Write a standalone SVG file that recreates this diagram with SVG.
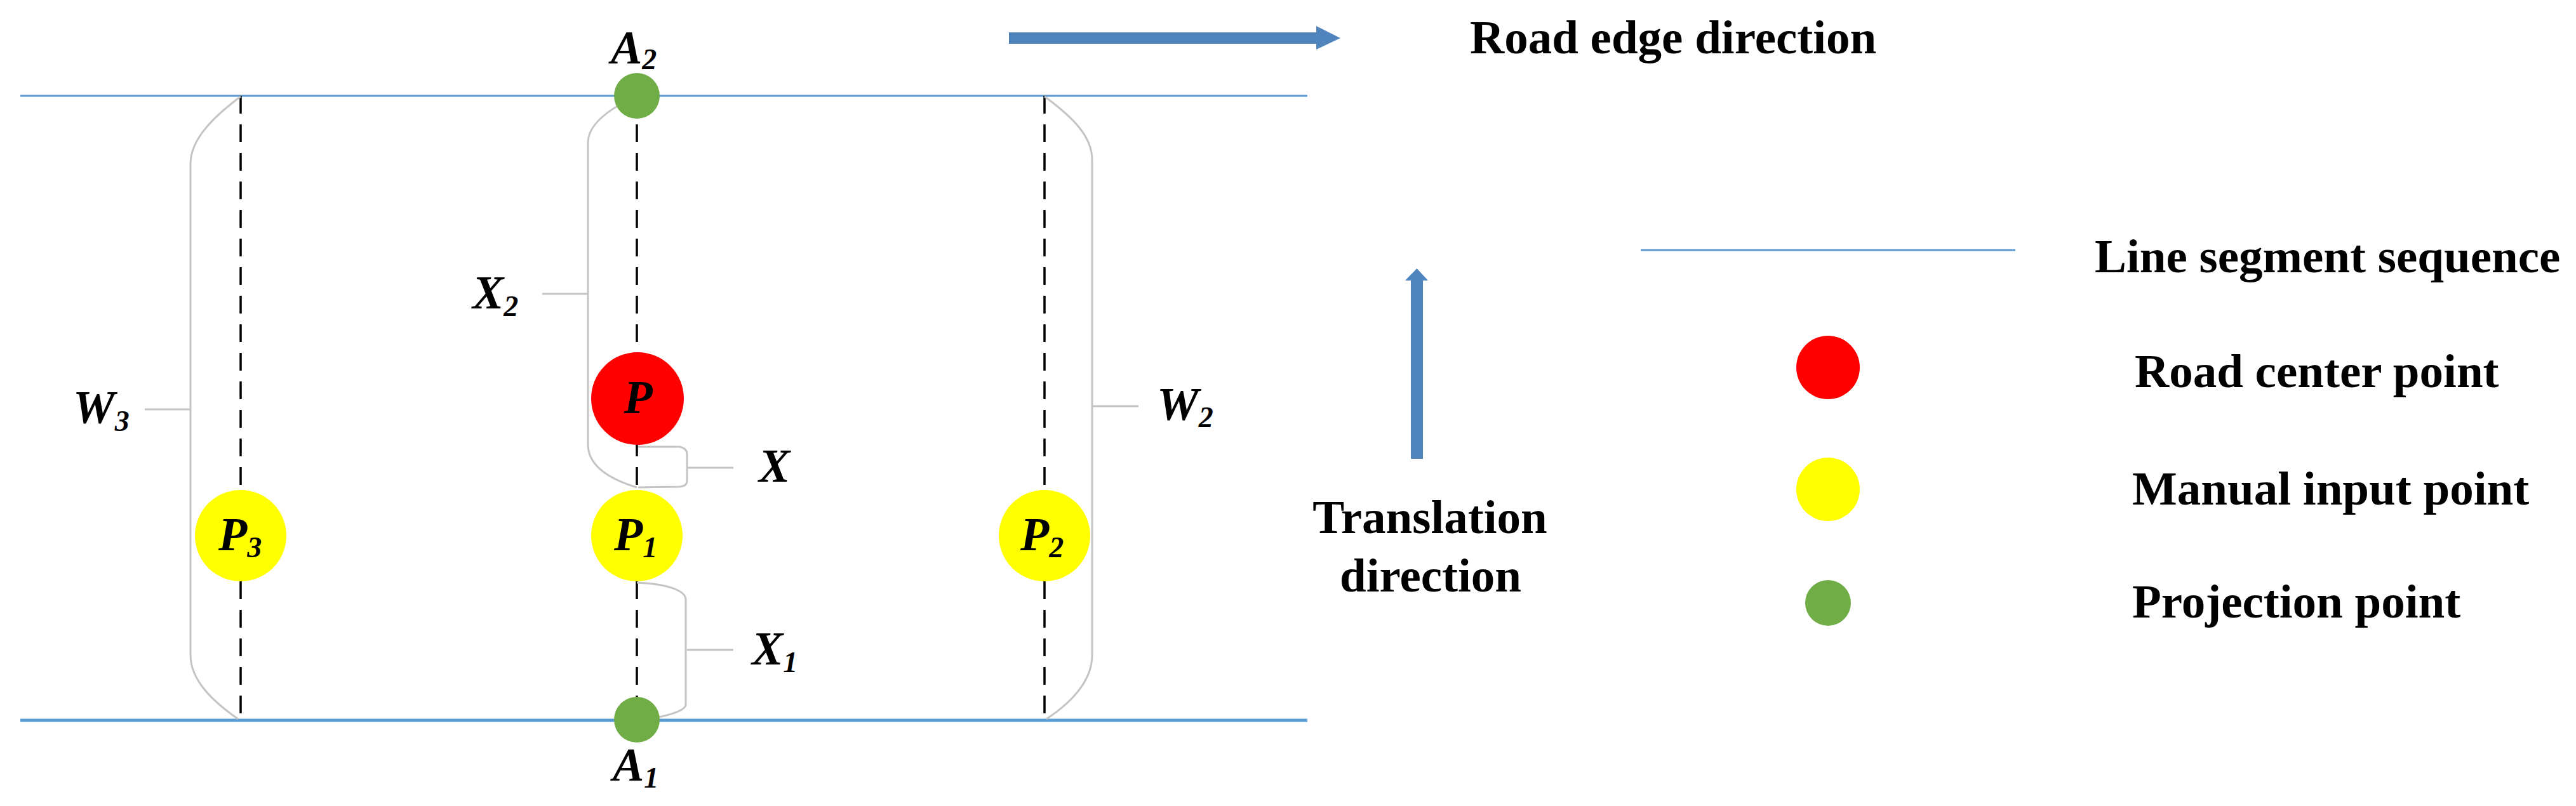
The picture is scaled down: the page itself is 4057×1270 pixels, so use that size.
<svg xmlns="http://www.w3.org/2000/svg" width="4057" height="1270" viewBox="0 0 4057 1270">
<style>
.road{stroke:#5b9bd5;fill:none}
.dash{stroke:#000;stroke-width:3.5;stroke-dasharray:28 17;fill:none}
.brace{stroke:#c4c4c4;stroke-width:3;fill:none}
.arrow{fill:#4f84bd}
.lbl{font-family:"Liberation Serif","Times New Roman",serif;font-weight:bold;font-style:italic;font-size:74px;fill:#000}
.sub{font-size:46px}
.leg{font-family:"Liberation Serif","Times New Roman",serif;font-weight:bold;font-size:75px;fill:#000}
.green{fill:#70ad47}
.red{fill:#ff0000}
.yellow{fill:#ffff00}
</style>
<rect width="4057" height="1270" fill="#fff"/>
<g id="road-edges">
<line class="road" x1="32" y1="151" x2="2059" y2="151" stroke-width="3"/>
<line class="road" x1="32" y1="1135" x2="2059" y2="1135" stroke-width="5"/>
</g>
<g id="connectors">
<line class="dash" x1="379" y1="151" x2="379" y2="1135"/>
<line class="dash" x1="1003" y1="151" x2="1003" y2="1135"/>
<line class="dash" x1="1645" y1="151" x2="1645" y2="1135"/>
<path class="brace" d="M379,152 C335,185 300,220 300,258 L300,1032 C300,1072 335,1105 375,1133"/>
<line class="brace" x1="228" y1="645" x2="300" y2="645"/>
<path class="brace" d="M1645,152 C1690,185 1720,215 1720,252 L1720,1032 C1720,1072 1690,1105 1648,1133"/>
<line class="brace" x1="1720" y1="640" x2="1793" y2="640"/>
<path class="brace" d="M1003,151 C962,170 926,195 926,225 L926,700 C926,735 960,755 1003,768"/>
<line class="brace" x1="854" y1="463" x2="926" y2="463"/>
<path class="brace" d="M1005,704 L1070,704 Q1082,706 1082,716 L1082,758 Q1082,766 1070,767 L1005,768"/>
<line class="brace" x1="1082" y1="737" x2="1155" y2="737"/>
<path class="brace" d="M1003,918 C1050,920 1080,930 1080,945 L1080,1110 C1080,1120 1050,1130 1003,1135"/>
<line class="brace" x1="1082" y1="1024" x2="1155" y2="1024"/>
</g>
<g id="road-edge-direction">
<polygon class="arrow" points="1589,51 2073,51 2073,41 2111,60 2073,78 2073,69 1589,69"/>
<text class="leg" x="2315" y="84">Road edge direction</text>
</g>
<g id="translation-direction">
<polygon class="arrow" points="2222,723 2222,442 2213,442 2231.5,423 2249,442 2241,442 2241,723"/>
<text class="leg" x="2252" y="840" text-anchor="middle">Translation</text>
<text class="leg" x="2253" y="932" text-anchor="middle">direction</text>
</g>
<g id="node-A2">
<circle class="green" cx="1003" cy="151" r="36"/>
<text class="lbl" x="962" y="100">A<tspan class="sub" dy="9">2</tspan></text>
</g>
<g id="node-A1">
<circle class="green" cx="1003" cy="1134" r="36"/>
<text class="lbl" x="965" y="1230">A<tspan class="sub" dy="11">1</tspan></text>
</g>
<g id="node-P">
<circle class="red" cx="1004" cy="628" r="73"/>
<text class="lbl" x="1005" y="651" text-anchor="middle">P</text>
</g>
<g id="node-P1">
<circle class="yellow" cx="1003" cy="844" r="72"/>
<text class="lbl" x="967" y="867">P<tspan class="sub" dy="11">1</tspan></text>
</g>
<g id="node-P3">
<circle class="yellow" cx="379" cy="844" r="72"/>
<text class="lbl" x="344" y="867">P<tspan class="sub" dy="11">3</tspan></text>
</g>
<g id="node-P2">
<circle class="yellow" cx="1645" cy="844" r="72"/>
<text class="lbl" x="1607" y="867">P<tspan class="sub" dy="11">2</tspan></text>
</g>
<g id="label-W3"><text class="lbl" x="115" y="667">W<tspan class="sub" dy="12">3</tspan></text></g>
<g id="label-W2"><text class="lbl" x="1822" y="662">W<tspan class="sub" dy="11">2</tspan></text></g>
<g id="label-X2"><text class="lbl" x="744" y="486">X<tspan class="sub" dy="12">2</tspan></text></g>
<g id="label-X"><text class="lbl" x="1195" y="759">X</text></g>
<g id="label-X1"><text class="lbl" x="1184" y="1047">X<tspan class="sub" dy="12">1</tspan></text></g>
<g id="legend">
<g id="legend-line">
<line class="road" x1="2584" y1="394" x2="3174" y2="394" stroke-width="3"/>
<text class="leg" x="3299" y="429">Line segment sequence</text>
</g>
<g id="legend-center">
<circle class="red" cx="2879" cy="579" r="50"/>
<text class="leg" x="3362" y="610">Road center point</text>
</g>
<g id="legend-manual">
<circle class="yellow" cx="2879" cy="771" r="50"/>
<text class="leg" x="3358" y="795">Manual input point</text>
</g>
<g id="legend-projection">
<circle class="green" cx="2879" cy="950" r="36"/>
<text class="leg" x="3358" y="973">Projection point</text>
</g>
</g>
</svg>
